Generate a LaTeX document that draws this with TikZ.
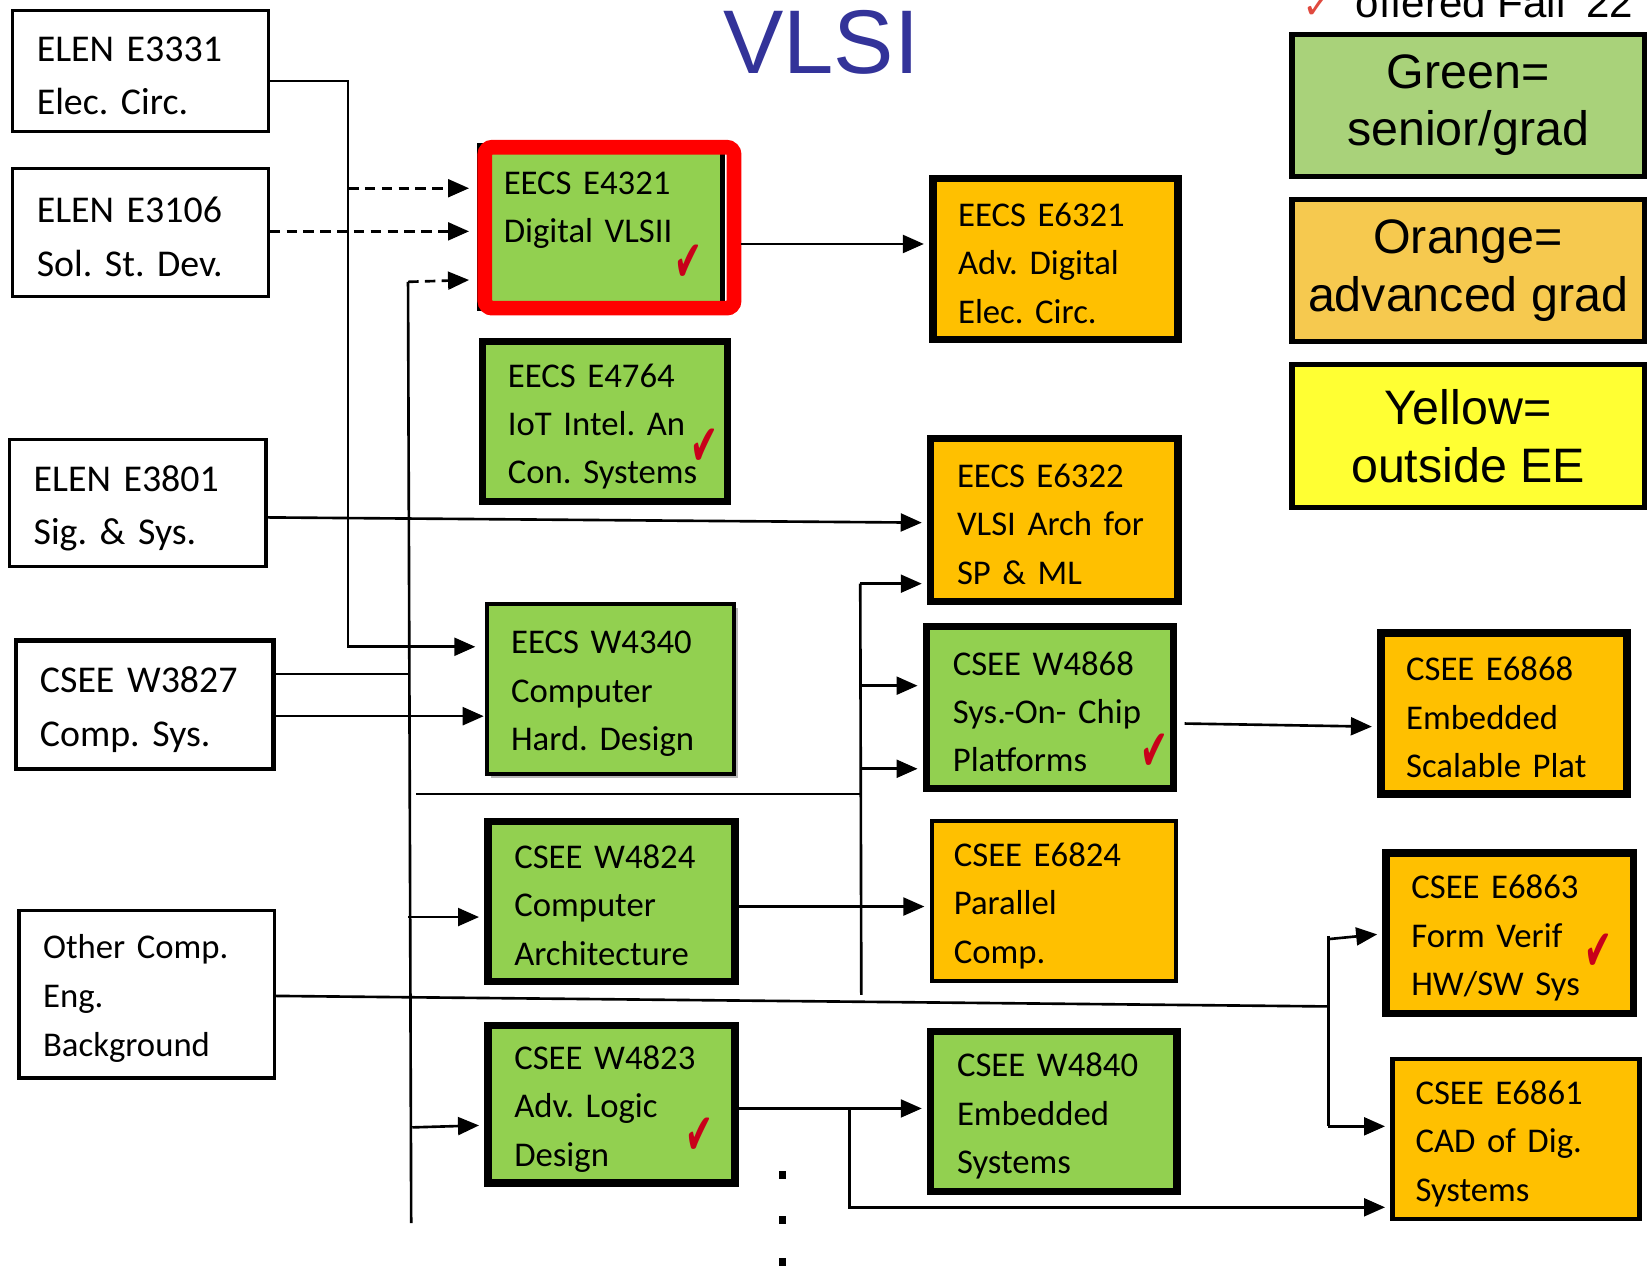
\documentclass[tikz,border=0pt]{standalone}
\usepackage{fontspec}
\usetikzlibrary{arrows.meta,shadows}
\newfontfamily\carlito{Carlito}
\newfontfamily\arialf{Liberation Sans}
\newfontfamily\dejav{DejaVu Sans}
\definecolor{cgreen}{HTML}{92D050}
\definecolor{corange}{HTML}{FFC000}
\definecolor{lgreen}{HTML}{A9D27A}
\definecolor{lorange}{HTML}{F6C94F}
\definecolor{lyellow}{HTML}{FFFF33}
\definecolor{vblue}{HTML}{333399}
\definecolor{chkred}{HTML}{C8001A}
\definecolor{offred}{HTML}{E04A3F}
\newcommand\coursebox[8]{%
 \pgfmathsetmacro\cbcx{(#3+#5)/2}%
 \pgfmathsetmacro\cbcy{(#4+#6)/2}%
 \pgfmathsetmacro\cbtw{#5-#3-2*#7}%
 \pgfmathsetmacro\cbh{#6-#4}%
 \node[#1, text width=\cbtw pt, inner xsep=#7pt, minimum height=\cbh pt] (#2) at (\cbcx,\cbcy) {\rule{0pt}{0.95em}#8\rule[-0.05em]{0pt}{0pt}};}
\begin{document}
\frenchspacing
\begin{tikzpicture}[x=1pt,y=-1pt,
  box/.style={draw=black, align=left, inner ysep=0pt, anchor=center,
    execute at begin node={\hyphenpenalty=10000\exhyphenpenalty=10000}},
  wbox/.style={box, fill=white, line width=3pt, font=\carlito\fontsize{36}{51}\selectfont},
  gbox/.style={box, fill=cgreen, line width=7pt, font=\carlito\fontsize{33}{46}\selectfont},
  obox/.style={box, fill=corange, line width=7pt, font=\carlito\fontsize{33}{46}\selectfont},
  lbox/.style={draw=black, line width=5pt, align=center, font=\arialf\fontsize{46}{55}\selectfont, inner sep=0pt},
  conn/.style={line width=2.5pt},
  arr/.style={conn, -{Triangle[length=20pt,width=17pt]}, shorten >=5pt},
  dsh/.style={dash pattern=on 10pt off 6pt},
  chk/.style={text=chkred, font=\dejav\fontsize{44}{44}\selectfont, inner sep=0pt}
]
\useasboundingbox (0,0) rectangle (1568,1206);
\clip (0,0) rectangle (1568,1206);
\fill[white] (0,0) rectangle (1568,1206);

% title and legend
\node[font=\arialf\fontsize{86}{86}\selectfont, text=vblue, anchor=base, inner sep=0pt] (title) at (781,70) {VLSI};
\node[font=\dejav\fontsize{36}{36}\selectfont, text=offred, anchor=base west, inner sep=0pt] (offchk) at (1238,18) {✓};
\node[font=\arialf\fontsize{40}{40}\selectfont, anchor=base west, inner sep=0pt] (offtxt) at (1289,17) {offered Fall ’22};
\node[lbox, fill=lgreen, minimum width=335pt, minimum height=135pt] (lg) at (1396,100) {Green=\\senior/grad};
\node[lbox, fill=lorange, minimum width=335pt, minimum height=135pt] (lo) at (1396,257) {Orange=\\advanced grad};
\node[lbox, fill=lyellow, minimum width=335pt, minimum height=136pt] (ly) at (1396,414.5) {Yellow=\\outside EE};

% white boxes
\coursebox{wbox}{e3331}{12}{10}{255}{125}{23}{ELEN E3331\\Elec. Circ.}
\coursebox{wbox}{e3106}{12}{160}{255}{282}{23}{ELEN E3106\\Sol. St. Dev.}
\coursebox{wbox}{e3801}{9}{418}{253}{539}{23}{ELEN E3801\\Sig. \& Sys.}
\coursebox{wbox,line width=4pt}{w3827}{15}{609}{260}{731}{23}{CSEE W3827\\Comp. Sys.}
\coursebox{wbox,font=\carlito\fontsize{33}{46.5}\selectfont}{other}{18}{866}{261}{1025}{23}{Other Comp.\\Eng.\\Background}

% green boxes
\coursebox{gbox,line width=4pt}{e4321}{456}{138}{687}{294}{23}{EECS E4321\\Digital VLSII\\~}
\node[draw=red, line width=14pt, rounded corners=7pt, minimum width=237pt, minimum height=153pt, inner sep=0pt] (e4321f) at (579.5,216.5) {};
\coursebox{gbox}{e4764}{459}{325}{692}{477}{24}{EECS E4764\\IoT Intel. An\\Con. Systems}
\coursebox{gbox,line width=4pt,drop shadow={shadow xshift=4pt,shadow yshift=-4pt,fill=black!55,opacity=0.5}}{w4340}{463}{574}{698}{736}{23}{EECS W4340\\Computer\\Hard. Design}
\coursebox{gbox}{w4824}{464}{781}{699}{933}{25}{CSEE W4824\\Computer\\Architecture}
\coursebox{gbox}{w4823}{464}{975}{699}{1125}{25}{CSEE W4823\\Adv. Logic\\Design}
\coursebox{gbox}{w4868}{881}{596}{1116}{750}{25}{CSEE W4868\\Sys.-On- Chip\\Platforms}
\coursebox{gbox}{w4840}{885}{981}{1119}{1133}{25}{CSEE W4840\\Embedded\\Systems}

% orange boxes
\coursebox{obox}{e6321}{887}{170}{1120}{323}{24}{EECS E6321\\Adv. Digital\\Elec. Circ.}
\coursebox{obox}{e6322}{885}{417}{1120}{572}{25}{EECS E6322\\VLSI Arch for\\SP \& ML}
\coursebox{obox,line width=4pt}{e6824}{886}{781}{1118}{933}{21}{CSEE E6824\\Parallel\\Comp.}
\coursebox{obox}{e6868}{1313}{602}{1547}{755}{24}{CSEE E6868\\Embedded\\Scalable Plat}
\coursebox{obox}{e6863}{1318}{811}{1553}{964}{24}{CSEE E6863\\Form Verif\\HW/SW Sys}
\coursebox{obox,line width=4pt}{e6861}{1324}{1007}{1559}{1159}{22}{CSEE E6861\\CAD of Dig.\\Systems}

% check marks
\node[chk] (ck1) at (655,250) {\scalebox{0.72}[1.25]{✔}};
\node[chk] (ck2) at (670,425) {\scalebox{0.72}[1.25]{✔}};
\node[chk] (ck3) at (665,1080) {\scalebox{0.72}[1.25]{✔}};
\node[chk] (ck4) at (1098,715) {\scalebox{0.72}[1.25]{✔}};
\node[chk] (ck5) at (1520,905) {\scalebox{0.72}[1.25]{✔}};

% junction coordinates
\coordinate (b1) at (331,77);
\coordinate (bus1t) at (388,268);
\coordinate (bus1b) at (391,1163);
\coordinate (bus2t) at (818,555);
\coordinate (bus2b) at (819,946);
\coordinate (bus3t) at (1263,890);
\coordinate (bus3b) at (1263,1071);
\coordinate (b4) at (808,1054);
\coordinate (b4b) at (808,1148);
\coordinate (h1) at (396,755);
\coordinate (o1) at (1263,957);

% connectors
\draw[arr, shorten >=9pt] (e3331.east |- b1) -- (b1) -- (b1 |- 0,615) -- (w4340.west |- 0,615);
\draw[arr, dsh, shorten >=8pt] (b1 |- 0,179) -- (e4321f.west |- 0,179);
\draw[arr, dsh, shorten >=8pt] (e3106.east |- 0,220) -- (e4321f.west |- 0,220);
\draw[conn] (bus1t) -- (bus1b);
\draw[arr, dsh, shorten >=8pt] (bus1t) -- (e4321f.west |- 0,266);
\draw[arr] (e3801.east |- 0,492) -- (e6322.west |- 0,497);
\draw[conn] (w3827.east |- 0,641) -- (bus1t |- 0,641);
\draw[arr, shorten >=1pt] (w3827.east |- 0,681) -- (w4340.west |- 0,681);
\draw[arr] (bus1t |- 0,872) -- (w4824.west |- 0,872);
\draw[arr] (392,1072) -- (w4823.west |- 0,1070);
\draw[conn] (h1) -- (bus2t |- h1);
\draw[conn] (bus2t) -- (bus2b);
\draw[arr] (bus2t) -- (e6322.west |- bus2t);
\draw[arr] (bus2t |- 0,652) -- (w4868.west |- 0,652);
\draw[arr] (bus2t |- 0,731) -- (w4868.west |- 0,731);
\draw[arr] (w4824.east |- 0,862) -- (e6824.west |- 0,862);
\draw[arr] (e4321f.east |- 0,232) -- (e6321.west |- 0,232);
\draw[arr] ([xshift=7pt]w4868.east |- 0,688) -- (e6868.west |- 0,691);
\draw[conn] (other.east |- 0,947) -- (o1);
\draw[conn] (bus3t) -- (bus3b);
\draw[arr] (bus3t |- 0,893) -- (e6863.west |- 0,888);
\draw[arr] (bus3b) -- (e6861.west |- bus3b);
\draw[arr] (w4823.east |- b4) -- (w4840.west |- b4);
\draw[arr] (b4) -- (b4b) -- (e6861.west |- b4b);

% continuation dots
\fill (741,1113) rectangle (747,1121);
\fill (741,1156) rectangle (747,1164);
\fill (741,1196) rectangle (747,1204);
\end{tikzpicture}
\end{document}
